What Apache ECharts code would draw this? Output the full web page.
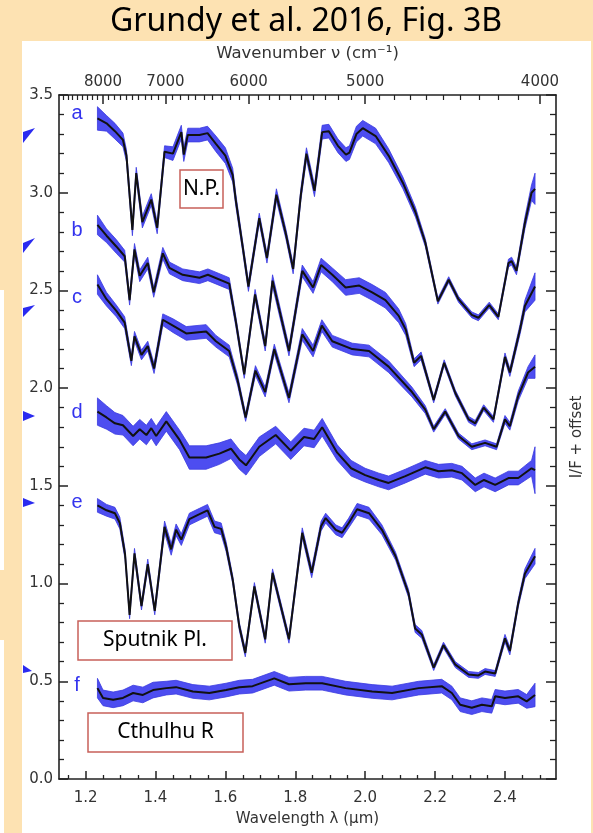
<!DOCTYPE html>
<html>
<head>
<meta charset="utf-8">
<script src="https://cdn.jsdelivr.net/npm/echarts@6/dist/echarts.min.js"></script>
<style>
html, body { margin: 0; padding: 0; background: #FDE2B2; }
#panel { position: absolute; left: 22px; top: 41px; width: 569px; height: 792px; background: #fff; }
.strip { position: absolute; left: 0; width: 4px; background: #fff; }
#chart { position: absolute; left: 0; top: 0; width: 593px; height: 833px; }
</style>
</head>
<body>
<div id="panel"></div>
<div class="strip" style="top:290px;height:280px"></div>
<div class="strip" style="top:640px;height:193px"></div>
<div id="chart"></div>
<script>
// spectra a-f : [wavelength (um), I/F + offset, 1-sigma]
var specA = [
  [1.234, 3.38, 0.06], [1.26, 3.355, 0.04], [1.284, 3.315, 0.04], [1.307, 3.27, 0.035],
  [1.317, 3.19, 0.03], [1.334, 2.81, 0.03], [1.345, 3.10, 0.03], [1.3625, 2.85, 0.03],
  [1.388, 2.965, 0.03], [1.405, 2.82, 0.03], [1.426, 3.21, 0.03], [1.45, 3.20, 0.035],
  [1.474, 3.31, 0.035], [1.481, 3.195, 0.035], [1.4925, 3.295, 0.035], [1.526, 3.295, 0.035],
  [1.549, 3.305, 0.035], [1.573, 3.25, 0.04], [1.60, 3.19, 0.04], [1.621, 3.09, 0.035],
  [1.63, 2.96, 0.03], [1.649, 2.73, 0.025], [1.666, 2.52, 0.025], [1.697, 2.87, 0.025],
  [1.719, 2.665, 0.025], [1.746, 2.99, 0.03], [1.773, 2.79, 0.025], [1.794, 2.61, 0.025],
  [1.816, 2.99, 0.03], [1.832, 3.20, 0.03], [1.855, 3.01, 0.03], [1.877, 3.31, 0.035],
  [1.896, 3.315, 0.035], [1.922, 3.24, 0.035], [1.945, 3.195, 0.035], [1.955, 3.205, 0.035],
  [1.975, 3.30, 0.04], [1.993, 3.33, 0.04], [2.03, 3.29, 0.04], [2.067, 3.19, 0.035],
  [2.108, 3.05, 0.03], [2.144, 2.90, 0.025], [2.172, 2.745, 0.02], [2.208, 2.445, 0.015],
  [2.239, 2.555, 0.015], [2.267, 2.455, 0.015], [2.305, 2.375, 0.015], [2.324, 2.36, 0.015],
  [2.355, 2.425, 0.015], [2.381, 2.365, 0.015], [2.41, 2.64, 0.02], [2.419, 2.65, 0.02],
  [2.433, 2.60, 0.02], [2.457, 2.845, 0.03], [2.476, 3.0, 0.04], [2.486, 3.02, 0.08]
];
var specB = [
  [1.234, 2.835, 0.05], [1.26, 2.78, 0.035], [1.288, 2.725, 0.035], [1.312, 2.675, 0.03],
  [1.326, 2.45, 0.025], [1.34, 2.71, 0.03], [1.355, 2.575, 0.03], [1.378, 2.64, 0.03],
  [1.395, 2.49, 0.025], [1.421, 2.69, 0.03], [1.44, 2.615, 0.03], [1.478, 2.58, 0.03],
  [1.526, 2.565, 0.03], [1.55, 2.58, 0.03], [1.611, 2.535, 0.03], [1.63, 2.34, 0.025],
  [1.654, 2.07, 0.02], [1.685, 2.48, 0.025], [1.714, 2.215, 0.025], [1.735, 2.55, 0.03],
  [1.782, 2.19, 0.025], [1.82, 2.60, 0.03], [1.851, 2.515, 0.03], [1.874, 2.63, 0.035],
  [1.906, 2.58, 0.035], [1.944, 2.515, 0.04], [1.983, 2.525, 0.04], [2.02, 2.49, 0.04],
  [2.058, 2.45, 0.04], [2.096, 2.37, 0.035], [2.116, 2.30, 0.03], [2.14, 2.13, 0.02],
  [2.16, 2.165, 0.02], [2.196, 1.94, 0.015], [2.226, 2.13, 0.015], [2.258, 1.975, 0.015],
  [2.296, 1.84, 0.015], [2.315, 1.82, 0.015], [2.339, 1.90, 0.015], [2.367, 1.84, 0.015],
  [2.40, 2.16, 0.02], [2.414, 2.08, 0.02], [2.443, 2.30, 0.025], [2.457, 2.42, 0.03],
  [2.486, 2.52, 0.07]
];
var specC = [
  [1.234, 2.53, 0.05], [1.26, 2.455, 0.035], [1.288, 2.395, 0.03], [1.312, 2.335, 0.03],
  [1.331, 2.14, 0.025], [1.34, 2.265, 0.025], [1.36, 2.17, 0.025], [1.378, 2.215, 0.025],
  [1.396, 2.10, 0.025], [1.421, 2.35, 0.03], [1.45, 2.32, 0.035], [1.488, 2.28, 0.035],
  [1.545, 2.29, 0.035], [1.573, 2.24, 0.03], [1.611, 2.19, 0.03], [1.635, 2.04, 0.025],
  [1.658, 1.85, 0.02], [1.686, 2.09, 0.025], [1.714, 1.98, 0.025], [1.74, 2.20, 0.025],
  [1.782, 1.95, 0.025], [1.82, 2.275, 0.03], [1.851, 2.19, 0.03], [1.876, 2.32, 0.03],
  [1.906, 2.24, 0.03], [1.963, 2.20, 0.03], [2.011, 2.19, 0.03], [2.067, 2.11, 0.03],
  [2.134, 1.98, 0.025], [2.172, 1.89, 0.02], [2.196, 1.79, 0.015], [2.229, 1.88, 0.015],
  [2.267, 1.755, 0.015], [2.305, 1.70, 0.015], [2.343, 1.72, 0.015], [2.376, 1.70, 0.015],
  [2.40, 1.84, 0.02], [2.414, 1.805, 0.02], [2.438, 1.96, 0.025], [2.466, 2.08, 0.03],
  [2.486, 2.11, 0.06]
];
var specD = [
  [1.234, 1.88, 0.07], [1.26, 1.85, 0.06], [1.284, 1.82, 0.055], [1.307, 1.81, 0.05],
  [1.336, 1.755, 0.05], [1.355, 1.79, 0.05], [1.374, 1.76, 0.05], [1.388, 1.795, 0.05],
  [1.402, 1.755, 0.05], [1.431, 1.83, 0.05], [1.469, 1.735, 0.05], [1.497, 1.645, 0.06],
  [1.545, 1.645, 0.06], [1.583, 1.665, 0.055], [1.616, 1.69, 0.05], [1.64, 1.635, 0.05],
  [1.659, 1.605, 0.05], [1.697, 1.70, 0.05], [1.744, 1.76, 0.045], [1.787, 1.68, 0.045],
  [1.825, 1.75, 0.045], [1.854, 1.74, 0.045], [1.877, 1.80, 0.045], [1.92, 1.67, 0.04],
  [1.96, 1.59, 0.04], [2.0, 1.555, 0.035], [2.039, 1.53, 0.035], [2.067, 1.515, 0.035],
  [2.115, 1.55, 0.035], [2.172, 1.595, 0.035], [2.21, 1.575, 0.035], [2.248, 1.58, 0.035],
  [2.277, 1.565, 0.035], [2.315, 1.505, 0.035], [2.34, 1.53, 0.035], [2.372, 1.505, 0.035],
  [2.41, 1.54, 0.035], [2.438, 1.54, 0.035], [2.476, 1.59, 0.04], [2.486, 1.58, 0.12]
];
var specE = [
  [1.234, 1.40, 0.035], [1.26, 1.375, 0.03], [1.284, 1.36, 0.03], [1.298, 1.31, 0.03],
  [1.313, 1.15, 0.025], [1.326, 0.84, 0.02], [1.34, 1.155, 0.025], [1.36, 0.885, 0.02],
  [1.378, 1.10, 0.025], [1.398, 0.86, 0.02], [1.426, 1.29, 0.03], [1.445, 1.175, 0.03],
  [1.459, 1.275, 0.03], [1.474, 1.225, 0.03], [1.497, 1.33, 0.03], [1.526, 1.355, 0.03],
  [1.549, 1.375, 0.03], [1.569, 1.29, 0.03], [1.588, 1.28, 0.03], [1.602, 1.19, 0.025],
  [1.621, 1.02, 0.02], [1.64, 0.78, 0.02], [1.657, 0.645, 0.02], [1.683, 0.985, 0.02],
  [1.714, 0.715, 0.02], [1.735, 1.055, 0.02], [1.782, 0.715, 0.02], [1.82, 1.26, 0.025],
  [1.847, 1.055, 0.025], [1.874, 1.295, 0.025], [1.887, 1.335, 0.025], [1.916, 1.275, 0.025],
  [1.934, 1.26, 0.025], [1.953, 1.31, 0.025], [1.977, 1.38, 0.03], [2.011, 1.36, 0.03],
  [2.048, 1.275, 0.025], [2.087, 1.14, 0.02], [2.124, 0.95, 0.02], [2.143, 0.77, 0.02],
  [2.162, 0.74, 0.02], [2.196, 0.57, 0.015], [2.224, 0.685, 0.015], [2.258, 0.585, 0.015],
  [2.296, 0.535, 0.015], [2.324, 0.53, 0.015], [2.343, 0.55, 0.015], [2.372, 0.54, 0.015],
  [2.40, 0.72, 0.02], [2.414, 0.655, 0.02], [2.438, 0.90, 0.02], [2.457, 1.05, 0.025],
  [2.486, 1.14, 0.04]
];
var specF = [
  [1.234, 0.465, 0.05], [1.25, 0.415, 0.04], [1.279, 0.405, 0.04], [1.307, 0.415, 0.04],
  [1.336, 0.44, 0.04], [1.364, 0.43, 0.04], [1.393, 0.455, 0.04], [1.431, 0.465, 0.035],
  [1.459, 0.47, 0.035], [1.507, 0.448, 0.035], [1.554, 0.44, 0.035], [1.602, 0.455, 0.035],
  [1.64, 0.47, 0.035], [1.678, 0.475, 0.035], [1.74, 0.515, 0.035], [1.782, 0.485, 0.035],
  [1.83, 0.49, 0.035], [1.877, 0.49, 0.035], [1.944, 0.465, 0.035], [2.02, 0.448, 0.035],
  [2.077, 0.44, 0.035], [2.153, 0.465, 0.035], [2.219, 0.475, 0.035], [2.248, 0.44, 0.035],
  [2.272, 0.38, 0.035], [2.305, 0.365, 0.035], [2.334, 0.38, 0.035], [2.362, 0.372, 0.035],
  [2.372, 0.423, 0.035], [2.40, 0.415, 0.035], [2.438, 0.423, 0.035], [2.462, 0.397, 0.035],
  [2.486, 0.43, 0.06]
];
var spectra = [specA, specB, specC, specD, specE, specF];

var lamTicks = [1.2, 1.4, 1.6, 1.8, 2.0, 2.2, 2.4];
var nuTicks = [8000, 7000, 6000, 5000, 4000];
var lamMin = 1.124, lamMax = 2.546;

// minor ticks: 0.05 um below, 100 cm-1 on top
var lamMinor = [];
for (var t = 1.15; t < lamMax; t += 0.05) {
  var r = Math.round(t * 100) / 100;
  if (Math.round(r * 100) % 20 !== 0) lamMinor.push(r);
}
var nuMinor = [];
for (var n = 8800; n > 4000; n -= 100) {
  if (n % 1000 !== 0 && 1e4 / n > lamMin) nuMinor.push(1e4 / n);
}

var axisCol = '#222', labCol = '#333', fontFam = 'DejaVu Sans';
var bandCol = '#4d4df0';

function xAx(pos, opts) {
  return Object.assign({
    type: 'value', position: pos, min: lamMin, max: lamMax,
    axisLine: { show: false }, splitLine: { show: false },
    axisLabel: { show: false }, axisTick: { show: false }
  }, opts);
}

// 1-sigma band as one polygon per spectrum, placed through the axes
function bandItem(sp) {
  return function (params, api) {
    if (params.dataIndex !== 0) return null;
    var up = sp.map(function (p) { return api.coord([p[0], p[1] + p[2]]); });
    var lo = sp.map(function (p) { return api.coord([p[0], p[1] - p[2]]); }).reverse();
    return {
      type: 'polygon',
      shape: { points: up.concat(lo) },
      style: { fill: bandCol, stroke: '#3a3adf', lineWidth: 0.8 }
    };
  };
}

var series = [];
spectra.forEach(function (sp) {
  series.push({
    type: 'custom', silent: true, z: 2,
    renderItem: bandItem(sp),
    encode: { x: 0, y: 1 },
    data: sp
  });
  series.push({
    type: 'line', symbol: 'none', silent: true, z: 5,
    lineStyle: { width: 2, color: '#111' },
    data: sp.map(function (p) { return [p[0], p[1]]; })
  });
});

var letters = ['a', 'b', 'c', 'd', 'e', 'f'];
var letterY = [113, 230, 297, 412, 502, 685];
var flags = [
  [[23, 132], [35, 128], [23, 143]],
  [[23, 243], [35, 238], [23, 253]],
  [[23, 308], [35, 305], [23, 317]],
  [[23, 411], [35, 416], [23, 421]],
  [[23, 498], [35, 503], [23, 507]],
  [[23, 665], [32, 671], [23, 673]]
];

var graphics = [{
  type: 'text', x: 306, y: 22,
  style: { text: 'Grundy et al. 2016, Fig. 3B', fontSize: 32, fontFamily: 'Noto Sans',
           fill: '#000', align: 'center', verticalAlign: 'middle' }
}];
letters.forEach(function (l, i) {
  graphics.push({
    type: 'text', x: 77, y: letterY[i],
    style: { text: l, fontSize: 20, fontFamily: 'Liberation Sans', fill: '#3333ee',
             align: 'center', verticalAlign: 'middle' }
  });
  graphics.push({
    type: 'polygon', shape: { points: flags[i] }, style: { fill: '#2a2af0' }
  });
});
[['N.P.', 180, 170, 43, 38], ['Sputnik Pl.', 78, 621, 154, 39], ['Cthulhu R', 88, 713, 155, 39]]
  .forEach(function (b) {
    graphics.push({
      type: 'rect', z: 100, shape: { x: b[1], y: b[2], width: b[3], height: b[4] },
      style: { fill: '#fff', stroke: '#C8605A', lineWidth: 1.5 }
    });
    graphics.push({
      type: 'text', z: 101, x: b[1] + b[3] / 2, y: b[2] + b[4] / 2,
      style: { text: b[0], fontSize: 21, fontFamily: 'Noto Sans', fill: '#000',
               align: 'center', verticalAlign: 'middle' }
    });
  });

var chart = echarts.init(document.getElementById('chart'));
chart.setOption({
  animation: false,
  grid: { left: 59, right: 35, top: 95, bottom: 54 },
  xAxis: [
    xAx('bottom', {
      axisLine: { show: true, lineStyle: { color: axisCol, width: 1.6 } },
      axisTick: { show: true, inside: true, length: 8, customValues: lamTicks,
                  lineStyle: { color: axisCol, width: 1.5 } },
      axisLabel: { show: true, customValues: lamTicks, margin: 12, color: labCol,
                   fontSize: 15, fontFamily: fontFam,
                   formatter: function (v) { return v.toFixed(1); } },
      name: 'Wavelength λ (μm)', nameLocation: 'middle', nameGap: 33,
      nameTextStyle: { color: labCol, fontSize: 15, fontFamily: fontFam }
    }),
    xAx('bottom', {
      axisTick: { show: true, inside: true, length: 4, customValues: lamMinor,
                  lineStyle: { color: axisCol, width: 1.3 } }
    }),
    xAx('top', {
      axisLine: { show: true, lineStyle: { color: axisCol, width: 1.6 } },
      axisTick: { show: true, inside: true, length: 9,
                  customValues: nuTicks.map(function (v) { return 1e4 / v; }),
                  lineStyle: { color: axisCol, width: 1.5 } },
      axisLabel: { show: true, customValues: nuTicks.map(function (v) { return 1e4 / v; }),
                   margin: 5, color: labCol, fontSize: 15, fontFamily: fontFam,
                   formatter: function (v) { return String(Math.round(1e4 / v)); } },
      name: 'Wavenumber ν (cm⁻¹)', nameLocation: 'middle', nameGap: 33,
      nameTextStyle: { color: labCol, fontSize: 16.5, fontFamily: fontFam }
    }),
    xAx('top', {
      axisTick: { show: true, inside: true, length: 5, customValues: nuMinor,
                  lineStyle: { color: axisCol, width: 1.2 } }
    })
  ],
  yAxis: [{
    type: 'value', min: 0, max: 3.5, interval: 0.5, position: 'left',
    axisLine: { show: true, lineStyle: { color: axisCol, width: 1.6 } },
    axisTick: { inside: true, length: 9, lineStyle: { color: axisCol, width: 1.5 } },
    minorTick: { show: true, splitNumber: 5, length: 5, lineStyle: { color: axisCol, width: 1.3 } },
    splitLine: { show: false },
    axisLabel: { margin: 6, color: labCol, fontSize: 15, fontFamily: fontFam,
                 formatter: function (v) { return v.toFixed(1); } }
  }, {
    type: 'value', min: 0, max: 3.5, interval: 0.5, position: 'right',
    axisLine: { show: true, lineStyle: { color: axisCol, width: 1.6 } },
    axisTick: { inside: true, length: 10, lineStyle: { color: axisCol, width: 1.5 } },
    minorTick: { show: true, splitNumber: 5, length: 6, lineStyle: { color: axisCol, width: 1.3 } },
    splitLine: { show: false },
    axisLabel: { show: false },
    name: 'I/F + offset', nameLocation: 'middle', nameRotate: 90, nameGap: 14,
    nameTextStyle: { color: labCol, fontSize: 15, fontFamily: fontFam }
  }],
  series: series,
  graphic: graphics
});
</script>
</body>
</html>
